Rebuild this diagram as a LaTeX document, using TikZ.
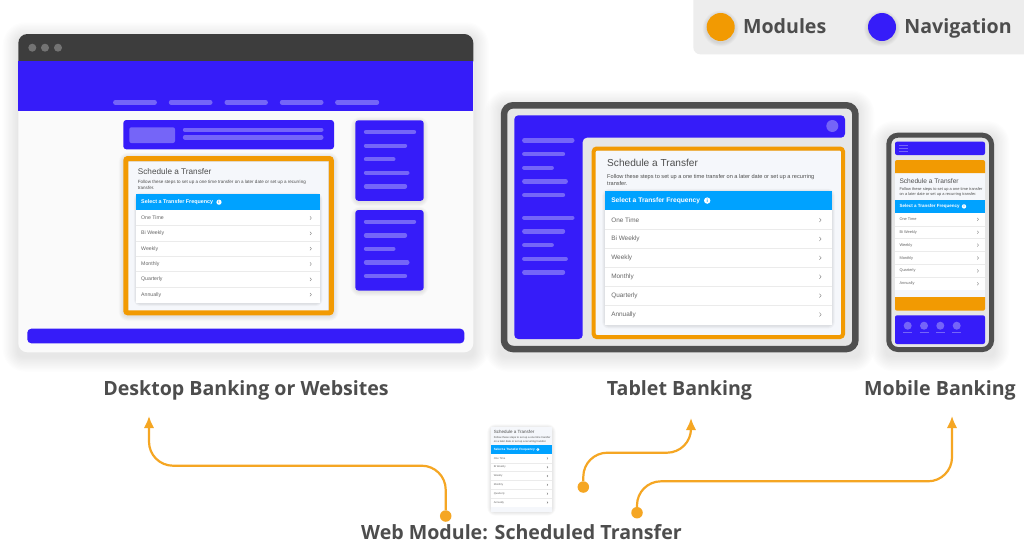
\documentclass[tikz,border=0pt]{standalone}
\usepackage{fontspec}
\setmainfont{Open Sans}
\newfontfamily\cardfont{Liberation Sans}
\usetikzlibrary{arrows.meta, calc, positioning}

\definecolor{navblue}{HTML}{361CF9}
\definecolor{navbar}{HTML}{7565F8}
\definecolor{modorange}{HTML}{F29A02}
\definecolor{flowline}{HTML}{F5A623}
\definecolor{skyhead}{HTML}{00A2FF}
\definecolor{cardbg}{HTML}{F5F7FB}
\definecolor{rimgrey}{HTML}{4F4F4F}
\definecolor{screengrey}{HTML}{E6E6E6}
\definecolor{labelgrey}{HTML}{4D4D4D}

\newcommand{\softshadow}[5][1.3]{
  \foreach \g in {1,...,12} {
    \fill[black, opacity=.009, rounded corners=4pt+\g*#1*1.2pt] (#2-\g*#1,#3-\g*#1+3*#1) rectangle (#4+\g*#1,#5+\g*#1+3*#1);
  };
}
\newcommand{\navstrip}[3]{\draw[stripe] (#1,#3) -- (#2,#3);}

\tikzset{
  stripe/.style={navbar, line width=4.4pt, line cap=round},
  cardtext/.style={transform shape, anchor=west, inner sep=0pt, text=#1},
  cardtext/.default=labelgrey,
  chevron/.style={draw=black!55, line width=.35pt},
  caption/.style={text=labelgrey, font=\fontsize{19.6}{24}\selectfont\bfseries, inner sep=0pt, text height=17pt, text depth=4pt},
  flowdot/.style={circle, fill=flowline, minimum size=11.5pt, inner sep=0pt},
  flow/.style={draw=flowline, line width=2.2pt, rounded corners=24pt, -{Latex[length=12pt,width=10.5pt]}},
  legenddot/.style={circle, minimum size=28pt, inner sep=0pt},
  widecard/.pic={
    \fill[cardbg] (0,0) rectangle (200,150);
    \node[cardtext, font=\cardfont\fontsize{8.2}{10}\selectfont] (-title) at (9.7,9.7) {Schedule a Transfer};
    \node[cardtext, align=left, font=\cardfont\fontsize{4.55}{5.7}\selectfont] (-note) at (9.7,23.2) {Follow these steps to set up a one time transfer on a later date or set up a recurring\\transfer.};
    \softshadow[.2]{8}{32.3}{192.3}{141.3}
    \fill[white] (8,48) rectangle (192.3,141.3);
    \fill[skyhead] (8,32.3) rectangle (192.3,48);
    \node[cardtext=white, font=\cardfont\bfseries\fontsize{5.4}{7}\selectfont] (-head) at (13,40.2) {Select a Transfer Frequency};
    \node[circle, transform shape, fill=white, text=skyhead, minimum size=5.2pt, inner sep=0pt, font=\cardfont\bfseries\fontsize{4}{4}\selectfont] (-info) at (91,40.2) {i};
    \foreach \n/\t [evaluate=\n as \y using 56+15.33*\n] in {0/One Time, 1/Bi Weekly, 2/Weekly, 3/Monthly, 4/Quarterly, 5/Annually} {
      \node[cardtext=black!60, font=\cardfont\fontsize{5.2}{6}\selectfont] (-row\n) at (13,\y) {\t};
      \draw[chevron] (182,\y-1.6) -- (183.4,\y) -- (182,\y+1.6);
      \ifnum\n<5 \draw[black!8, line width=.4pt] (8,\y+7.67) -- (192.3,\y+7.67); \fi
    };
  },
  narrowcard/.pic={
    \fill[cardbg] (0,0) rectangle (90,124);
    \node[cardtext, font=\cardfont\fontsize{6.6}{8}\selectfont] (-title) at (4.3,8) {Schedule a Transfer};
    \node[cardtext, align=left, font=\cardfont\fontsize{3.95}{5.3}\selectfont] (-note) at (4.3,19.3) {Follow these steps to set up a one time transfer\\on a later date or set up a recurring transfer.};
    \fill[white] (0,39.7) rectangle (90,117);
    \fill[skyhead] (0,27) rectangle (90,39.7);
    \node[cardtext=white, font=\cardfont\bfseries\fontsize{4.5}{6}\selectfont] (-head) at (4.3,33.4) {Select a Transfer Frequency};
    \node[circle, transform shape, fill=white, text=skyhead, minimum size=4.4pt, inner sep=0pt, font=\cardfont\bfseries\fontsize{3.4}{4}\selectfont] (-info) at (69,33.4) {i};
    \foreach \n/\t [evaluate=\n as \y using 46.3+12.9*\n] in {0/One Time, 1/Bi Weekly, 2/Weekly, 3/Monthly, 4/Quarterly, 5/Annually} {
      \node[cardtext=black!60, font=\cardfont\fontsize{3.9}{5}\selectfont] (-row\n) at (4.3,\y) {\t};
      \draw[chevron] (82.3,\y-1.4) -- (83.5,\y) -- (82.3,\y+1.4);
      \ifnum\n<5 \draw[black!8, line width=.4pt] (0,\y+6.45) -- (90,\y+6.45); \fi
    };
  },
}

\begin{document}
\begin{tikzpicture}[x=1pt, y=-1pt]
  \useasboundingbox (0,0) rectangle (1024,547);
  \clip (0,0) rectangle (1024,547);
  \fill[white] (0,0) rectangle (1024,547);

  \fill[black!7, rounded corners=7pt] (693.3,-10) rectangle (1034,54.3);
  \foreach \x in {720.7, 882} {
      \foreach \g in {1,...,5} {
          \fill[black, opacity=.02] (\x,28.5) circle (14+\g*.8);
      };
  };
  \node[legenddot, fill=modorange] (modDot) at (720.7,27) {};
  \node[legenddot, fill=navblue] (navDot) at (882,27) {};
  \node[caption, right=8pt of modDot] (modLabel) {Modules};
  \node[caption, right=8pt of navDot] (navLabel) {Navigation};

  \softshadow{18.3}{34}{473.3}{352.3}
  \fill[black!2, rounded corners=9pt] (18.3,34) rectangle (473.3,352.3);
  \fill[black!76, rounded corners=9pt] (18.3,61.3) |- (473.3,34) -- (473.3,61.3);
  \foreach \x in {32.3, 45, 58} {
      \fill[black!55] (\x,47.7) circle (4);
  };
  \fill[navblue] (18.3,61.3) rectangle (473.3,111.3);
  \foreach \a/\b in {113.3/156.7, 169/212.3, 224.7/267.7, 280/323.3, 335.3/379} {
      \navstrip{\a+2}{\b-2}{102.3}
  };
  \fill[navblue, rounded corners=3pt] (123.3,120) rectangle (334,149.3);
  \fill[navbar, rounded corners=2pt] (129.3,127.3) rectangle (175,143);
  \navstrip{185}{321.3}{129.7}
  \navstrip{185}{321.3}{137.3}
  \foreach \top in {120.3, 210} {
      \softshadow[.4]{355.3}{\top}{423.7}{\top+80.5}
      \fill[navblue, rounded corners=3pt] (355.3,\top) rectangle (423.7,\top+80.5);
      \foreach \e/\d in {414/11.7, 405/25.4, 393.3/38.8, 407.3/52.4, 405/66} {
          \navstrip{366}{\e}{\top+\d}
      };
  };
  \softshadow[.4]{123.3}{156}{334}{315.3}
  \pic (cardA) at (128,162) {widecard};
  \draw[modorange, line width=5pt, rounded corners=2pt] (125.8,158.5) rectangle (331.3,312.8);
  \fill[navblue, rounded corners=4pt] (27.3,328.7) rectangle (464.3,343.3);

  \softshadow{500.7}{102}{858.7}{352.3}
  \fill[screengrey, draw=rimgrey, line width=6.5pt, rounded corners=9pt] (504,105.3) rectangle (855.4,349);
  \fill[navblue, rounded corners=4pt] (514.3,115.3) -- (845,115.3) -- (845,137.7) -- (582.7,137.7) -- (582.7,339) -- (514.3,339) -- cycle;
  \fill[navbar] (832.3,126) circle (6);
  \foreach \e/\d in {572.3/140.3, 563/154, 551.7/167.7, 565.7/181.3, 563/195, 572.3/217.7, 563/231.3, 551.7/245, 565.7/258.7, 563/272.3} {
      \navstrip{524.3}{\e}{\d}
  };
  \pic[scale=1.233] (cardB) at (595,151) {widecard};
  \draw[modorange, line width=4pt, rounded corners=3pt] (593.7,148.5) rectangle (843,337);

  \softshadow{886.3}{132.7}{994}{352}
  \fill[screengrey, draw=rimgrey, line width=5pt, rounded corners=9pt] (888.8,135.2) rectangle (991.5,349.5);
  \fill[navblue, rounded corners=2pt] (895,141.7) rectangle (985,155);
  \foreach \y in {145.7, 148.7, 151.7} {
      \draw[navbar, line width=.7pt] (899,\y) -- (908,\y);
  };
  \pic (cardC) at (895,173) {narrowcard};
  \fill[modorange, rounded corners=2pt] (895,173) |- (985,160) -- (985,173);
  \fill[modorange, rounded corners=2pt] (895,297) |- (985,310.7) -- (985,297);
  \fill[navblue, rounded corners=2pt] (895,315.3) rectangle (985,344);
  \foreach \x in {907.7, 924, 940.3, 956.7} {
      \fill[navbar] (\x,325.7) circle (4);
      \draw[navbar, line width=.8pt] (\x-4.5,332.3) -- (\x+4.5,332.3);
  };

  \softshadow[.3]{490.7}{426.7}{552.3}{511.3}
  \pic[scale=.684] (cardD) at (490.7,426.7) {narrowcard};

  \node[caption] (desktopLabel) at (246,388.5) {Desktop Banking or Websites};
  \node[caption] (tabletLabel) at (679.5,388.5) {Tablet Banking};
  \node[caption] (mobileLabel) at (940,388.5) {Mobile Banking};
  \node[caption] (moduleLabel) at (521.5,532.8) {Web Module: Scheduled Transfer};

  \node[flowdot] (dotA) at (445.7,516) {};
  \node[flowdot] (dotB) at (583.3,487) {};
  \node[flowdot] (dotC) at (637,512.7) {};
  \coordinate (tipA) at (149,416);
  \coordinate (tipB) at (691,418);
  \coordinate (tipC) at (952,416);
  \coordinate (bendA) at (149,465.7);
  \coordinate (bendB) at (691,452.7);
  \coordinate (bendC) at (952,481.3);
  \draw[flow] (dotA) |- (bendA) -- (tipA);
  \draw[flow] (dotB) |- (bendB) -- (tipB);
  \draw[flow] (dotC) |- (bendC) -- (tipC);
\end{tikzpicture}
\end{document}
